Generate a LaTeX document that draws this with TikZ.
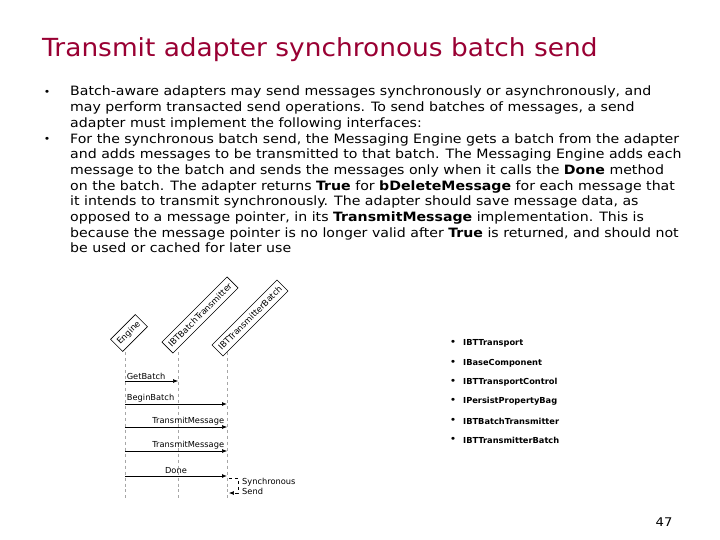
\documentclass[tikz,border=0pt]{standalone}
\usepackage{fontspec}
\setmainfont{DejaVu Sans}[FakeStretch=1.1]
\newfontfamily\titlefont{DejaVu Sans}[FakeStretch=1.06]
\newfontfamily\plainfont{DejaVu Sans}
\usetikzlibrary{arrows.meta}
\definecolor{titlered}{RGB}{153,0,51}
\begin{document}
\begin{tikzpicture}[x=1bp,y=-1bp,
  body/.style={anchor=north west,inner sep=0,font=\fontsize{12.9}{15.75}\selectfont,align=left},
  life/.style={draw=gray!70,dashed,line width=0.6},
  hdr/.style={draw,line width=0.6,rotate=45,font=\plainfont\fontsize{8.5}{9}\selectfont,inner xsep=3pt,inner ysep=4.5pt,anchor=center},
  msg/.style={-{Latex[length=5,width=4]},line width=0.6},
  mlab/.style={font=\plainfont\fontsize{8.3}{9}\selectfont,inner sep=1.5pt,anchor=south},
  itf/.style={anchor=west,font=\plainfont\bfseries\fontsize{8.3}{9}\selectfont,inner sep=0}]
\useasboundingbox (0,0) rectangle (720,540);
\node[anchor=west,inner sep=0,text=titlered,font=\fontsize{25}{28}\selectfont\titlefont] (title) at (42,50) {Transmit adapter synchronous batch send};
\node[inner sep=0,font=\fontsize{10}{10}\selectfont] (b1) at (47,93) {•};
\node[inner sep=0,font=\fontsize{10}{10}\selectfont] (b2) at (47,140) {•};
\node[body] (t1) at (70,86) {Batch-aware adapters may send messages synchronously or asynchronously, and\\may perform transacted send operations. To send batches of messages, a send\\adapter must implement the following interfaces:\\For the synchronous batch send, the Messaging Engine gets a batch from the adapter\\and adds messages to be transmitted to that batch. The Messaging Engine adds each\\message to the batch and sends the messages only when it calls the \textbf{Done} method\\on the batch. The adapter returns \textbf{True} for \textbf{bDeleteMessage} for each message that\\it intends to transmit synchronously. The adapter should save message data, as\\opposed to a message pointer, in its \textbf{TransmitMessage} implementation. This is\\because the message pointer is no longer valid after \textbf{True} is returned, and should not\\be used or cached for later use};
% headers
\node[hdr] (h1) at (129,333) {Engine};
\node[hdr] (h2) at (200,315) {IBTBatchTransmitter};
\node[hdr] (h3) at (250,318) {IBTTransmitterBatch};
\coordinate (l1t) at (125,352); \coordinate (l1b) at (125,498);
\coordinate (l2t) at (178,352); \coordinate (l2b) at (178,498);
\coordinate (l3t) at (227,352); \coordinate (l3b) at (227,498);
\draw[life] (l1t) -- (l1b); \draw[life] (l2t) -- (l2b); \draw[life] (l3t) -- (l3b);
\coordinate (a1) at (125,381); \coordinate (a1e) at (178,381);
\coordinate (a2) at (125,404); \coordinate (a2e) at (227,404);
\coordinate (a3) at (125,427); \coordinate (a3e) at (227,427);
\coordinate (a4) at (125,451); \coordinate (a4e) at (227,451);
\coordinate (a5) at (125,476); \coordinate (a5e) at (227,476);
\draw[msg] (a1) -- node[mlab,anchor=south west,pos=0] {GetBatch} (a1e);
\draw[msg,line width=0.9] (a2) -- node[mlab,anchor=south west,pos=0] {BeginBatch} (a2e);
\draw[msg] (a3) -- node[mlab,pos=0.62] {TransmitMessage} (a3e);
\draw[msg] (a4) -- node[mlab,pos=0.62] {TransmitMessage} (a4e);
\draw[msg,line width=0.9] (a5) -- node[mlab] {Done} (a5e);
\coordinate (s1) at (229,478); \coordinate (s2) at (238,478); \coordinate (s3) at (238,493); \coordinate (s4) at (229,493);
\draw[dashed,line width=0.6,-{Latex[length=5,width=4]}] (s1) -- (s2) -- (s3) -- (s4);
\node[anchor=west,align=left,inner sep=0,font=\plainfont\fontsize{8.3}{10}\selectfont] (ss) at (242,486) {Synchronous\\Send};
% interfaces
\foreach \n/\y/\t in {i1/343/IBTTransport,i2/363/IBaseComponent,i3/382/IBTTransportControl,i4/401/IPersistPropertyBag,i5/421/IBTBatchTransmitter,i6/440/IBTTransmitterBatch}{
  \node[inner sep=0,font=\fontsize{10}{10}\selectfont] (\n d) at (453,\y) {•};
  \node[itf] (\n) at (463,\y) {\t};
}
\node[inner sep=0,font=\fontsize{12}{14}\selectfont] (pg) at (664,522) {47};
\end{tikzpicture}
\end{document}
